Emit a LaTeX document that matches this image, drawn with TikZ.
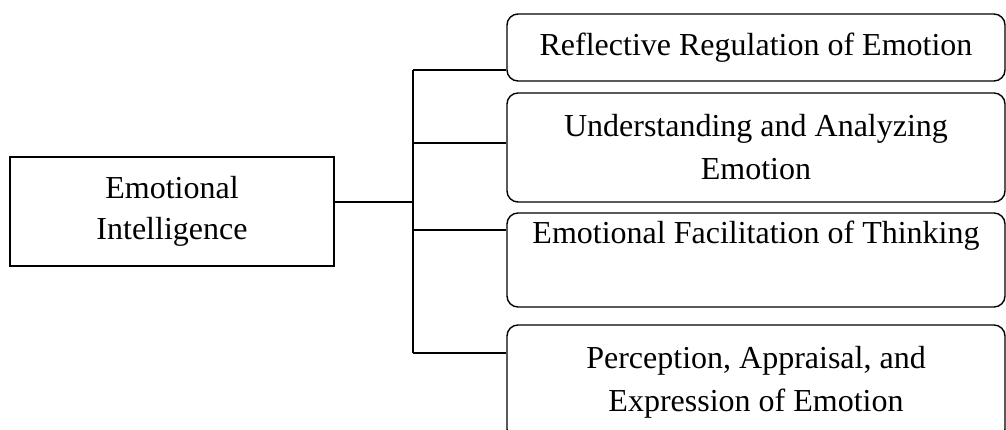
\documentclass[tikz,border=0pt]{standalone}
\usepackage{fontspec}
\setmainfont{Liberation Serif}
\begin{document}
\begin{tikzpicture}[x=1pt,y=-1pt,
  line width=1.4pt,
  catbox/.style={draw, rounded corners=11pt, minimum width=498pt, inner sep=0pt, align=center,
     font=\fontsize{32}{43}\selectfont},
  rootbox/.style={draw, minimum width=324pt, minimum height=109pt, inner sep=0pt, align=center,
     font=\fontsize{32}{41}\selectfont},
  link/.style={draw, line width=1.4pt}]
\useasboundingbox (0,0) rectangle (1006,430);
\node[rootbox] (ei) at (172,211.5) {Emotional\\Intelligence};
\node[catbox, minimum height=67pt] (b1) at (756,47.5) {Reflective Regulation of Emotion};
\node[catbox, minimum height=109pt] (b2) at (756,147.5) {Understanding and Analyzing\\Emotion};
\node[catbox, minimum height=94pt] (b3) at (756,260) {Emotional Facilitation of Thinking\\\strut};
\node[catbox, minimum height=115pt] (b4) at (756,382.5) {Perception, Appraisal, and\\Expression of Emotion};
\coordinate (j0) at (413,202);
\coordinate (j1) at (413,70);
\coordinate (j2) at (413,143);
\coordinate (j3) at (413,230);
\coordinate (j4) at (413,353);
\path[link] (ei.east |- j0) -- (j0);
\path[link] (j1) -- (j4);
\path[link] (j1) -- (j1 -| b1.west);
\path[link] (j2) -- (j2 -| b2.west);
\path[link] (j3) -- (j3 -| b3.west);
\path[link] (j4) -- (j4 -| b4.west);
\end{tikzpicture}
\end{document}
